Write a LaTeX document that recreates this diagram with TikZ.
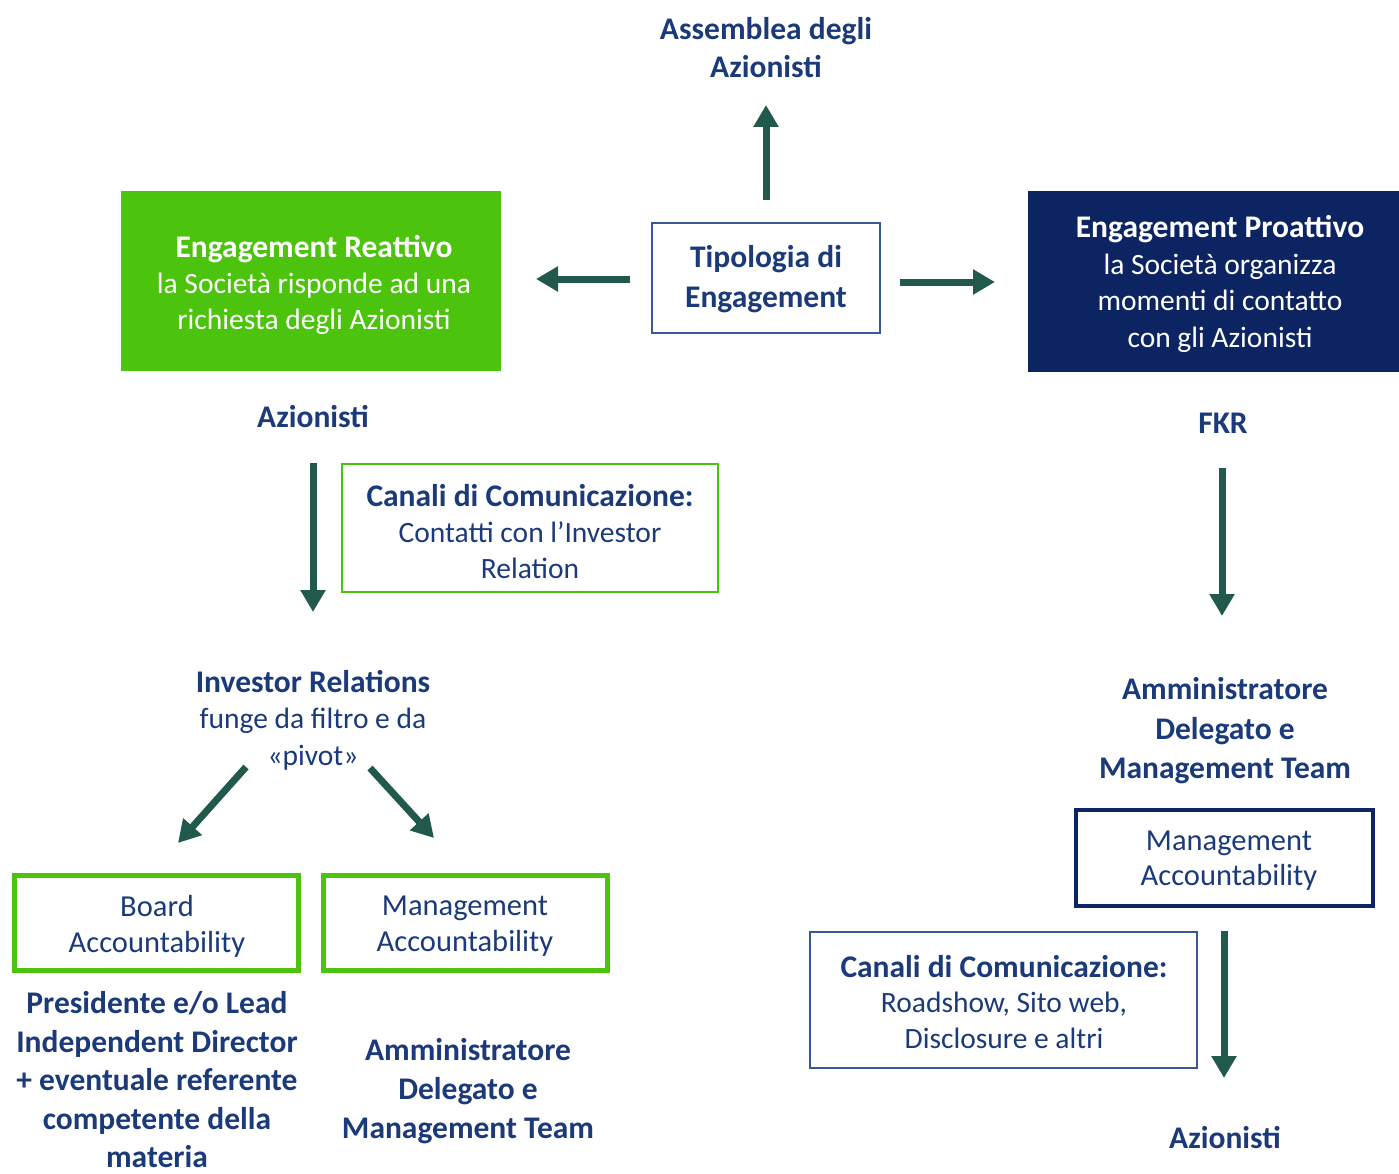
\documentclass[tikz,border=0pt]{standalone}
\usepackage{fontspec}
\setmainfont{Carlito}
\usetikzlibrary{arrows.meta}
\definecolor{txtnavy}{HTML}{1B3A7A}
\definecolor{boxgreen}{HTML}{4CC30C}
\definecolor{boxnavy}{HTML}{0D2463}
\definecolor{arrowteal}{HTML}{215A4D}
\definecolor{thinblue}{HTML}{3A5796}
\newcommand{\bfx}[1]{{\fontsize{31.5}{36}\selectfont\bfseries #1}}
\tikzset{
  x=1pt, y=-1pt,
  lbl/.style={text=txtnavy, align=center, inner sep=0pt, font=\fontsize{29.5}{36}\selectfont},
  blbl/.style={lbl, font=\fontsize{31.5}{36}\selectfont\bfseries},
  bigarrow/.style={draw=arrowteal, line width=7pt, -{Triangle[length=22pt,width=24pt]}},
  thinbox/.style={draw=thinblue, line width=2pt},
  greenframe/.style={draw=boxgreen, line width=5pt},
  greenthin/.style={draw=boxgreen, line width=2pt},
  navyframe/.style={draw=boxnavy, line width=4.5pt},
}
\begin{document}
\begin{tikzpicture}
\useasboundingbox[fill=white] (0,0) rectangle (1399,1174);

% top
\node[blbl, font=\fontsize{31.5}{38}\selectfont\bfseries] (assemblea) at (766,48) {Assemblea degli\\Azionisti};
\draw[thinbox] (652,223) rectangle (880,333);
\node[blbl, font=\fontsize{31.5}{40}\selectfont\bfseries] (tipo) at (766,279) {Tipologia di\\Engagement};
\coordinate (tipotop) at (766,200);
\coordinate (assbot) at (766,105);
\draw[bigarrow] (tipotop) -- (assbot);
\coordinate (tipoL) at (630,279);
\coordinate (reatR) at (536,279);
\draw[bigarrow] (tipoL) -- (reatR);
\coordinate (tipoR) at (900,282);
\coordinate (proaL) at (995,282);
\draw[bigarrow] (tipoR) -- (proaL);

% green reactive box
\fill[boxgreen] (121,191) rectangle (501,371);
\node[lbl, text=white] (reat) at (314,285) {\bfx{Engagement Reattivo}\\la Società risponde ad una\\richiesta degli Azionisti};

% navy proactive box
\fill[boxnavy] (1028,191) rectangle (1399,372);
\node[lbl, text=white, font=\fontsize{29.5}{36.7}\selectfont] (proa) at (1220,284) {\bfx{Engagement Proattivo}\\la Società organizza\\momenti di contatto\\con gli Azionisti};

% left column
\node[blbl] (azL) at (313,417) {Azionisti};
\coordinate (azLb) at (313,463);
\coordinate (irT) at (313,612);
\draw[bigarrow] (azLb) -- (irT);
\draw[greenthin] (342,464) rectangle (718,592);
\node[lbl] (canL) at (530,532) {\bfx{Canali di Comunicazione:}\\Contatti con l’Investor\\Relation};

\node[lbl, font=\fontsize{29.5}{36.5}\selectfont] (ir) at (313,720) {\bfx{Investor Relations}\\funge da filtro e da\\«pivot»};
\coordinate (irL) at (246,767);
\coordinate (boardT) at (178,843);
\coordinate (irR) at (370,768);
\coordinate (mgmtT) at (434,838);
\draw[bigarrow] (irL) -- (boardT);
\draw[bigarrow] (irR) -- (mgmtT);

\draw[greenframe] (14,875) rectangle (298,970);
\node[lbl, font=\fontsize{30.5}{36}\selectfont] (board) at (157,926) {Board\\Accountability};
\draw[greenframe] (323,875) rectangle (607,970);
\node[lbl, font=\fontsize{30.5}{36}\selectfont] (mgmtL) at (465,926) {Management\\Accountability};

\node[blbl, font=\fontsize{31.5}{38.5}\selectfont\bfseries] (pres) at (157,1080) {Presidente e/o Lead\\Independent Director\\+ eventuale referente\\competente della\\materia};
\node[blbl, font=\fontsize{31.5}{39}\selectfont\bfseries] (admL) at (468,1091) {Amministratore\\Delegato e\\Management Team};

% right column
\node[blbl] (fkr) at (1223,423) {FKR};
\coordinate (fkrB) at (1222,468);
\coordinate (admRT) at (1222,616);
\draw[bigarrow] (fkrB) -- (admRT);
\node[blbl, font=\fontsize{31.5}{39.5}\selectfont\bfseries] (admR) at (1225,731) {Amministratore\\Delegato e\\Management Team};

\draw[navyframe] (1076,810) rectangle (1373,906);
\node[lbl, font=\fontsize{30.5}{35}\selectfont] (mgmtR) at (1229,861) {Management\\Accountability};

\draw[thinbox] (810,932) rectangle (1197,1068);
\node[lbl, font=\fontsize{29.5}{35.5}\selectfont] (canR) at (1004,1002) {\bfx{Canali di Comunicazione:}\\Roadshow, Sito web,\\Disclosure e altri};

\coordinate (mgmtRB) at (1224,931);
\coordinate (azRT) at (1224,1078);
\draw[bigarrow] (mgmtRB) -- (azRT);
\node[blbl] (azR) at (1225,1138) {Azionisti};
\end{tikzpicture}
\end{document}
